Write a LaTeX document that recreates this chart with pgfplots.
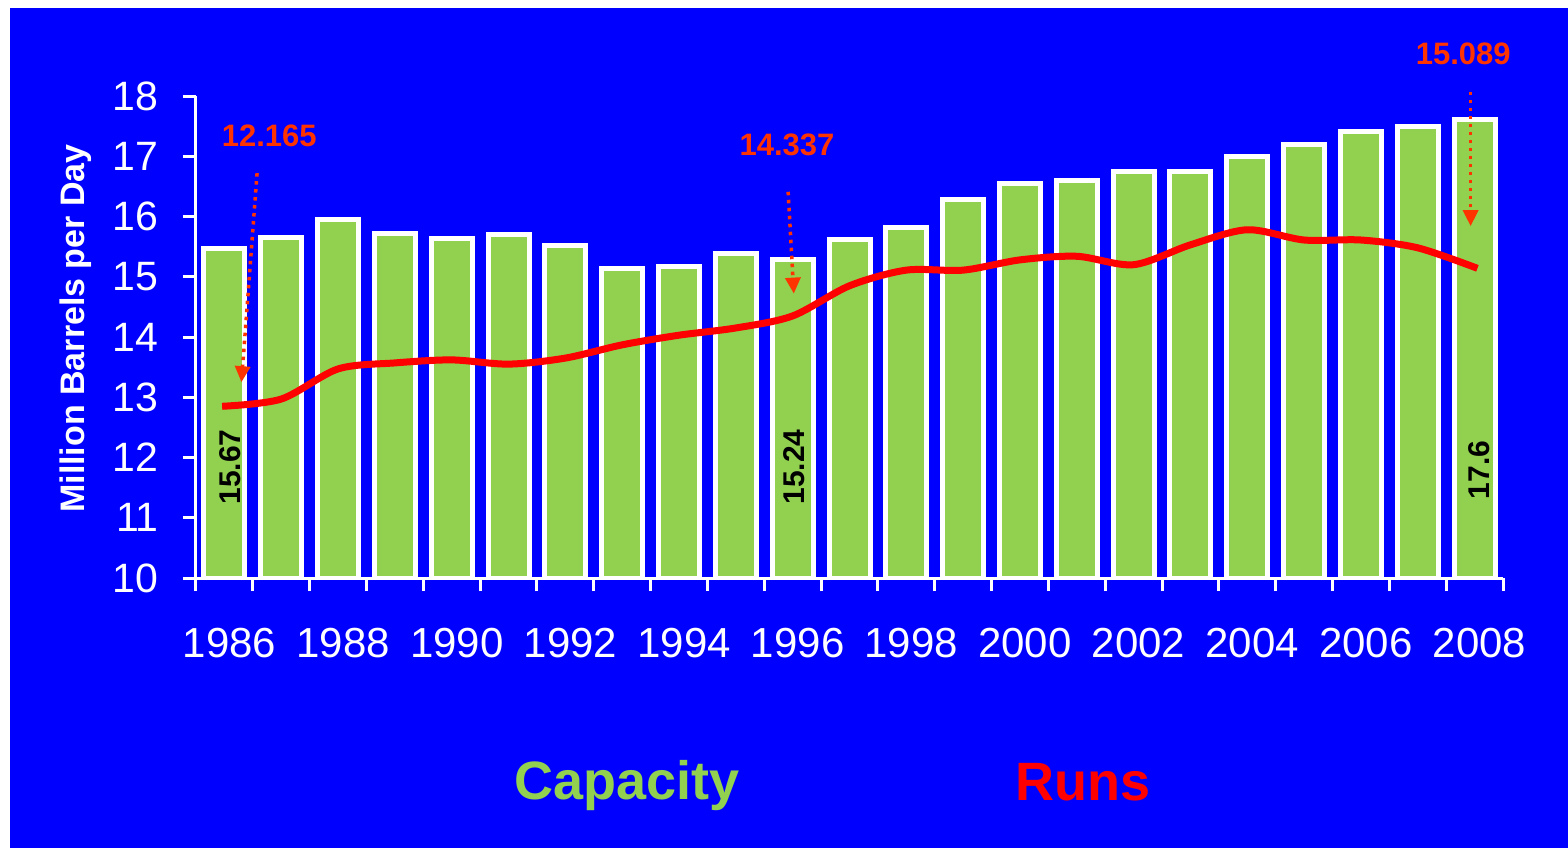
\documentclass[border=0pt]{standalone}
\usepackage{fontspec}
\setmainfont{Liberation Sans}
\usepackage{pgfplots}
\pgfplotsset{compat=1.18}
\usetikzlibrary{arrows.meta}
\definecolor{bgblue}{RGB}{0,0,255}
\definecolor{capgreen}{RGB}{146,208,80}
\definecolor{annot}{RGB}{255,51,0}
\definecolor{runsred}{RGB}{255,0,0}
\begin{document}
\begin{tikzpicture}
\useasboundingbox (-98bp,-135bp) rectangle (686bp,289bp);
\fill[white] (-98bp,-135bp) rectangle (686bp,289bp);
\fill[bgblue] (-93bp,-135bp) rectangle (686bp,285bp);
\begin{axis}[
  at={(0,0)}, anchor=south west,
  scale only axis, width=653.5bp, height=241bp,
  xmin=-0.5, xmax=22.5, ymin=10, ymax=18,
  clip mode=individual,
  axis x line*=bottom, axis y line*=left,
  axis line style={white, line width=1.5bp},
  tick align=outside,
  major tick length=6.5bp,
  every tick/.style={white, line width=1.5bp},
  xtick={-0.5,0.5,1.5,2.5,3.5,4.5,5.5,6.5,7.5,8.5,9.5,10.5,11.5,12.5,13.5,14.5,15.5,16.5,17.5,18.5,19.5,20.5,21.5,22.5},
  xticklabels={},
  extra x ticks={0,2,4,6,8,10,12,14,16,18,20,22},
  extra x tick labels={1986,1988,1990,1992,1994,1996,1998,2000,2002,2004,2006,2008},
  extra x tick style={major tick length=0pt,
    tick label style={white, font=\fontsize{21bp}{25bp}\selectfont, inner sep=0pt, anchor=north, yshift=-25bp, xshift=2.5bp}},
  ytick={10,11,12,13,14,15,16,17,18},
  yticklabel style={white, font=\fontsize{20.5bp}{24bp}\selectfont, inner sep=0pt, anchor=east, xshift=-12bp},
  /pgf/number format/assume math mode=true,
  ylabel={Million Barrels per Day},
  ylabel style={at={(axis description cs:-0.0918,0.5176)}, anchor=center, white, font=\bfseries\fontsize{17bp}{20bp}\selectfont},
]
\addplot[ybar, bar width=20.5bp, bar shift=0pt, fill=capgreen, draw=white, line width=2.5bp]
  coordinates {(0,15.47) (1,15.65) (2,15.95) (3,15.72) (4,15.63) (5,15.70) (6,15.52) (7,15.14) (8,15.17) (9,15.38) (10,15.28) (11,15.62) (12,15.82) (13,16.28) (14,16.55) (15,16.60) (16,16.75) (17,16.75) (18,17.00) (19,17.19) (20,17.41) (21,17.49) (22,17.61)};
\addplot[runsred, line width=3.5bp, smooth, mark=none]
  coordinates {(-0.04,12.85) (1,12.97) (2,13.47) (3,13.57) (4,13.62) (5,13.55) (6,13.65) (7,13.87) (8,14.03) (9,14.15) (10,14.35) (11,14.85) (12,15.11) (13,15.11) (14,15.28) (15,15.34) (16,15.20) (17,15.53) (18,15.78) (19,15.61) (20,15.61) (21,15.48) (22.05,15.14)};
% annotations
\node[annot, font=\bfseries\fontsize{15.5bp}{18bp}\selectfont] at (axis cs:0.79,17.34) {12.165};
\node[annot, font=\bfseries\fontsize{15.5bp}{18bp}\selectfont] at (axis cs:9.9,17.19) {14.337};
\node[annot, font=\bfseries\fontsize{15.5bp}{18bp}\selectfont] at (axis cs:21.8,18.70) {15.089};
\draw[annot, line width=1.75bp, dash pattern=on 1.75bp off 2.25bp, -{Triangle[width=7.5bp,length=8bp]}] (axis cs:0.575,16.72) -- (axis cs:0.30,13.25);
\draw[annot, line width=1.75bp, dash pattern=on 1.75bp off 2.25bp, -{Triangle[width=7.5bp,length=8bp]}] (axis cs:9.92,16.41) -- (axis cs:10.02,14.72);
\draw[annot, line width=1.75bp, dash pattern=on 1.75bp off 2.25bp, -{Triangle[width=7.5bp,length=8bp]}] (axis cs:21.93,18.07) -- (axis cs:21.93,15.84);
\node[black, rotate=90, font=\bfseries\fontsize{15bp}{18bp}\selectfont] at (axis cs:0.10,11.84) {15.67};
\node[black, rotate=90, font=\bfseries\fontsize{15bp}{18bp}\selectfont] at (axis cs:10.02,11.84) {15.24};
\node[black, rotate=90, font=\bfseries\fontsize{15bp}{18bp}\selectfont] at (axis cs:22.08,11.79) {17.6};
\end{axis}
\node[capgreen, font=\bfseries\fontsize{27bp}{32bp}\selectfont] at (215.5bp,-104bp) {Capacity};
\node[runsred, font=\bfseries\fontsize{27bp}{32bp}\selectfont] at (443.5bp,-102bp) {Runs};
\end{tikzpicture}
\end{document}
